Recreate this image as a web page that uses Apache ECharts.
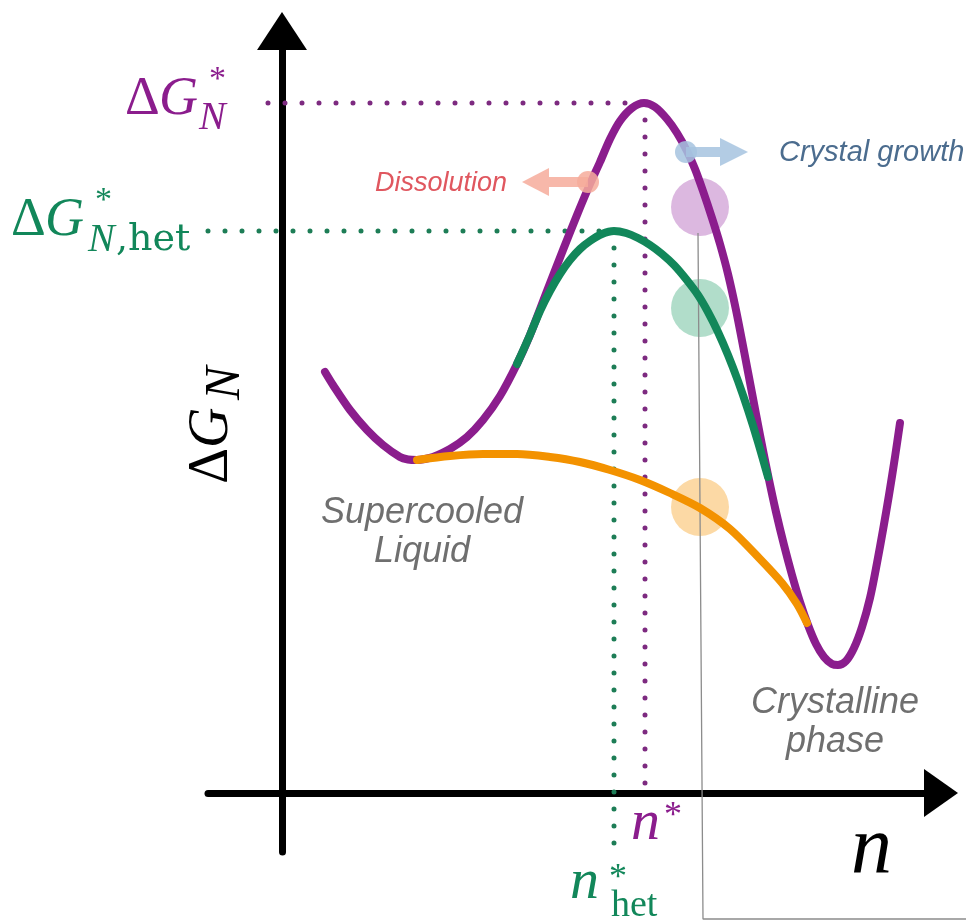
<!DOCTYPE html>
<html>
<head>
<meta charset="utf-8">
<script src="https://cdn.jsdelivr.net/npm/echarts@6/dist/echarts.min.js"></script>
<style>
  html, body { margin: 0; padding: 0; background: #ffffff; }
  #chart { width: 966px; height: 921px; }
</style>
</head>
<body>
<div id="chart"></div>
<script>
// Free-energy landscape of crystal nucleation: ΔG_N against cluster size n.

// Homogeneous pathway (liquid minimum -> barrier -> crystalline minimum)
const homogeneousCurve = [
  [4.3, 42.1], [5.1, 40.8], [6.8, 38.3], [8.5, 36.3], [10.1, 34.8], [11.8, 33.6],
  [12.6, 33.35], [13.5, 33.3], [14.3, 33.4], [15.1, 33.6], [16.8, 34.4], [18.5, 35.6],
  [20.1, 37.3], [21.8, 39.7], [23.5, 42.9], [24.8, 45.8], [26.5, 50.2], [28.1, 54.3],
  [29.5, 57.8], [30.8, 60.9], [31.8, 63.1], [32.8, 65.4], [33.8, 67.2], [35.0, 68.5],
  [36.2, 69.0], [37.3, 68.6], [38.5, 67.4], [39.5, 66.0], [40.5, 64.2], [41.3, 62.4],
  [42.1, 60.2], [43.0, 57.5], [43.8, 54.9], [44.6, 51.9], [45.4, 48.3], [46.2, 44.2],
  [47.0, 40.0], [47.8, 35.8], [48.6, 31.8], [49.4, 28.1], [50.2, 24.8], [51.0, 21.8],
  [51.8, 19.1], [52.6, 16.8], [53.4, 14.9], [54.2, 13.6], [55.0, 12.9], [55.6, 12.8],
  [56.4, 13.2], [57.2, 14.5], [58.0, 16.6], [58.8, 19.5], [59.5, 23.0], [60.1, 26.3],
  [60.7, 29.8], [61.3, 33.6], [61.8, 37.0]
];

// Heterogeneous pathway (lower barrier)
const heterogeneousCurve = [
  [23.5, 42.9], [24.8, 45.8], [25.8, 48.2], [26.8, 50.2], [27.8, 51.9], [28.8, 53.3],
  [29.8, 54.4], [30.8, 55.2], [32.0, 55.9], [33.2, 56.2], [34.4, 56.0], [35.6, 55.5],
  [36.8, 54.8], [38.0, 53.9], [39.2, 52.8], [40.4, 51.4], [41.6, 49.8], [42.6, 48.1],
  [43.6, 46.1], [44.6, 43.8], [45.6, 41.2], [46.6, 38.3], [47.6, 35.1], [48.6, 31.6]
];

// Barrier-free pathway
const barrierlessCurve = [
  [13.5, 33.3], [16.8, 33.7], [20.1, 33.9], [23.5, 33.9], [26.8, 33.6], [29.8, 33.1],
  [32.8, 32.3], [35.8, 31.3], [38.8, 30.0], [41.8, 28.5], [44.8, 26.4], [47.8, 23.4],
  [50.0, 21.0], [51.5, 18.9], [52.5, 17.0]
];

// Critical nucleus sizes and barrier heights
const nStar = 36.3;
const gStar = 69.0;
const nStarHet = 33.2;
const gStarHet = 56.2;

// Where the dotted guides run out to
const gStarGuideFromN = -1.4;
const nStarGuideToG = -0.3;
const gStarHetGuideFromN = -7.4;
const nStarHetGuideToG = -6.7;

// A cluster of given size on each pathway
const nucleusSize = 41.8;
const nucleusEnergies = [58.6, 48.5, 28.6];

// Thin size marker running down and out to the right
const sizeMarker = [[41.6, 56.0], [42.1, -12.6], [68.4, -12.6]];

// Axis extents (drawn axes), and the same scale carried out to the page edges
const nRange = [-7.4, 65.9];
const gRange = [-5.9, 76.2];
const nPageRange = [-28.2, 68.4];
const gPageRange = [-12.8, 79.3];

const PURPLE = '#8b1d8d';
const GREEN = '#12875a';
const ORANGE = '#f39200';

const chart = echarts.init(document.getElementById('chart'), null, { renderer: 'canvas' });

function dotted(data, color) {
  return {
    type: 'line', data: data, symbol: 'none', clip: false, silent: true, z: 3,
    lineStyle: { color: color, width: 5, type: [0, 17], cap: 'round' }
  };
}

function curve(data, color, z) {
  return {
    type: 'line', data: data, symbol: 'none', smooth: 0.3, clip: false, silent: true, z: z,
    lineStyle: { color: color, width: 8, cap: 'round', join: 'round' }
  };
}

const SERIF = '"Liberation Serif", "DejaVu Serif", serif';
const SANS = '"Liberation Sans", Arial, sans-serif';

function t(x, y, text, size, color, extra) {
  return Object.assign({
    type: 'text', x: x, y: y, z: 100,
    style: Object.assign({
      text: text, fontSize: size, fontFamily: SERIF, fill: color,
      align: 'left', verticalAlign: 'middle'
    }, (extra && extra.style) || {})
  }, extra && extra.el ? extra.el : {});
}
const it = { style: { fontStyle: 'italic' } };
const sansIt = (align) => ({ style: { fontFamily: SANS, fontStyle: 'italic', align: align || 'left' } });

function arrow(blob, tipX, baseX, y, color) {
  return {
    type: 'group', z: 50,
    children: [
      { type: 'circle', z: 50, shape: { cx: blob, cy: y, r: 11 }, style: { fill: color, opacity: 0.85 } },
      { type: 'rect', z: 50, shape: { x: Math.min(blob, baseX), y: y - 5, width: Math.abs(baseX - blob), height: 10 }, style: { fill: color, opacity: 0.85 } },
      { type: 'polygon', z: 50, shape: { points: [[tipX, y], [baseX, y - 14], [baseX, y + 14]] }, style: { fill: color, opacity: 0.85 } }
    ]
  };
}

const hiddenAxis = {
  show: false, type: 'value', gridIndex: 1,
  axisLine: { show: false }, axisTick: { show: false }, axisLabel: { show: false }, splitLine: { show: false }
};

const option = {
  animation: false,
  backgroundColor: '#ffffff',
  grid: [
    { left: 208, right: 25, top: 31, bottom: 69, containLabel: false },
    { left: 0, right: 0, top: 0, bottom: 0, containLabel: false }
  ],
  xAxis: [
    {
      type: 'value', min: nRange[0], max: nRange[1],
      axisLine: {
        onZero: true, symbol: ['none', 'triangle'], symbolSize: [48, 34],
        lineStyle: { color: '#000000', width: 7 }
      },
      axisTick: { show: false }, axisLabel: { show: false }, splitLine: { show: false }
    },
    Object.assign({ min: nPageRange[0], max: nPageRange[1] }, hiddenAxis)
  ],
  yAxis: [
    {
      type: 'value', min: gRange[0], max: gRange[1],
      axisLine: {
        onZero: true, symbol: ['none', 'triangle'], symbolSize: [50, 38],
        lineStyle: { color: '#000000', width: 7 }
      },
      axisTick: { show: false }, axisLabel: { show: false }, splitLine: { show: false }
    },
    Object.assign({ min: gPageRange[0], max: gPageRange[1] }, hiddenAxis)
  ],
  series: [
    {
      type: 'scatter', symbol: 'circle', symbolSize: 58, silent: true, z: 1,
      data: nucleusEnergies.map((g, i) => ({
        value: [nucleusSize, g],
        itemStyle: { color: ['#d3a6d8', '#9dd5bd', '#fbd08f'][i] }
      }))
    },
    {
      type: 'line', data: sizeMarker, symbol: 'none', clip: false, silent: true, z: 2,
      xAxisIndex: 1, yAxisIndex: 1,
      lineStyle: { color: '#8c8c8c', width: 1.3 }
    },
    dotted([[gStarGuideFromN, gStar], [nStar, gStar]], '#7d2a80'),
    dotted([[nStar, gStar], [nStar, nStarGuideToG]], '#7d2a80'),
    dotted([[gStarHetGuideFromN, gStarHet], [nStarHet, gStarHet]], '#1d7d56'),
    dotted([[nStarHet, gStarHet], [nStarHet, nStarHetGuideToG]], '#1d7d56'),
    curve(homogeneousCurve, PURPLE, 5),
    curve(heterogeneousCurve, GREEN, 6),
    curve(barrierlessCurve, ORANGE, 6)
  ],
  graphic: [
    // ΔG*_N
    t(125, 100, 'Δ', 54, PURPLE),
    t(159, 100, 'G', 54, PURPLE, it),
    t(209, 80, '*', 34, PURPLE),
    t(199, 118, 'N', 40, PURPLE, it),
    // ΔG*_N,het
    t(11, 221, 'Δ', 54, GREEN),
    t(45, 221, 'G', 54, GREEN, it),
    t(95, 201, '*', 34, GREEN),
    t(88, 240, 'N', 40, GREEN, it),
    t(116, 240, ',het', 38, GREEN, { style: { fontFamily: '"DejaVu Serif", serif' } }),
    // ΔG_N axis title
    {
      type: 'group', x: 212, y: 420, rotation: Math.PI / 2, z: 100,
      children: [
        t(-64, 0, 'Δ', 56, '#000000'),
        t(-28, 0, 'G', 56, '#000000', it),
        t(20, 14, 'N', 50, '#000000', it)
      ]
    },
    // n axis title
    t(851, 850, 'n', 82, '#000000', it),
    // n*
    t(631, 824, 'n', 58, PURPLE, it),
    t(664, 817, '*', 36, PURPLE),
    // n*_het
    t(570, 883, 'n', 58, GREEN, it),
    t(609, 879, '*', 36, GREEN),
    t(611, 906, 'het', 38, GREEN),
    // Dissolution / growth arrows
    arrow(588, 522, 549, 182, '#f6ab9b'),
    arrow(686, 748, 720, 152, '#a6c3df'),
    t(507, 183, 'Dissolution', 27, '#e0575f', sansIt('right')),
    t(779, 153, 'Crystal growth', 29, '#4b6c8e', sansIt()),
    // Phase annotations
    t(422, 513, 'Supercooled', 36, '#6f6f6f', sansIt('center')),
    t(422, 552, 'Liquid', 36, '#6f6f6f', sansIt('center')),
    t(835, 703, 'Crystalline', 36, '#6f6f6f', sansIt('center')),
    t(835, 742, 'phase', 36, '#6f6f6f', sansIt('center'))
  ]
};

chart.setOption(option);
</script>
</body>
</html>
